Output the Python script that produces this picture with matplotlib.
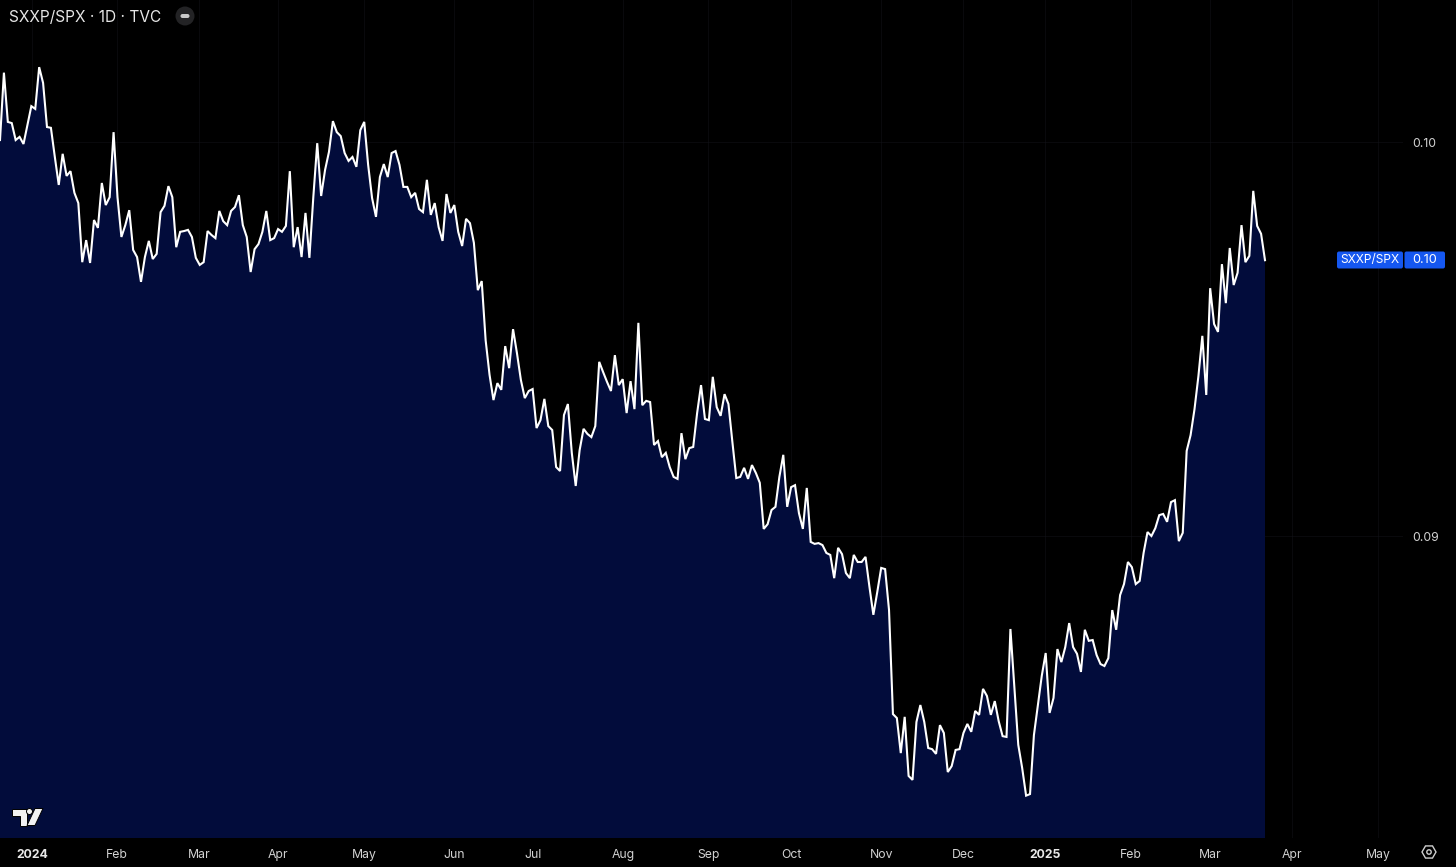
import numpy as np
import matplotlib
matplotlib.use("Agg")
import matplotlib.pyplot as plt
from matplotlib.patches import Circle, FancyBboxPatch, Polygon, RegularPolygon

plt.rcParams['font.family'] = ['Inter', 'DejaVu Sans']

# SXXP/SPX daily close
ratio_a = [0.10005, 0.10176, 0.10051, 0.10048, 0.10005, 0.10013, 0.09995, 0.10043, 0.10091, 0.10084,
           0.10190, 0.10150, 0.10038, 0.10036, 0.09962, 0.09891, 0.09970, 0.09914, 0.09926, 0.09871,
           0.09845, 0.09695, 0.09751, 0.09693, 0.09802, 0.09782, 0.09896, 0.09840, 0.09860, 0.10025,
           0.09860, 0.09759, 0.09789, 0.09827, 0.09726, 0.09708, 0.09645, 0.09708, 0.09749, 0.09703,
           0.09716, 0.09822, 0.09838, 0.09888, 0.09860, 0.09733, 0.09772, 0.09774, 0.09777, 0.09759,
           0.09706, 0.09688, 0.09695, 0.09774, 0.09764, 0.09756, 0.09825, 0.09799, 0.09789, 0.09825,
           0.09835, 0.09865, 0.09789, 0.09759, 0.09670, 0.09728, 0.09741, 0.09772, 0.09825, 0.09751,
           0.09756, 0.09779, 0.09772, 0.09787, 0.09926, 0.09733, 0.09784, 0.09708, 0.09820, 0.09706,
           0.09860, 0.09997]
ratio_b = [0.09863, 0.09929, 0.09975, 0.10053, 0.10025, 0.10015, 0.09972, 0.09952, 0.09962, 0.09937,
           0.10030, 0.10051, 0.09942, 0.09858, 0.09810, 0.09911, 0.09944, 0.09911, 0.09972, 0.09977,
           0.09942, 0.09886, 0.09886, 0.09860, 0.09871, 0.09830, 0.09822, 0.09904, 0.09815, 0.09845,
           0.09784, 0.09749, 0.09868, 0.09820, 0.09840, 0.09772, 0.09736, 0.09805, 0.09794, 0.09744,
           0.09624, 0.09647, 0.09497, 0.09409, 0.09345, 0.09388, 0.09371, 0.09482, 0.09426, 0.09525,
           0.09464, 0.09396, 0.09350, 0.09368, 0.09373, 0.09274, 0.09294, 0.09348, 0.09279, 0.09269,
           0.09175, 0.09165, 0.09307, 0.09335, 0.09211, 0.09127, 0.09218, 0.09272, 0.09259, 0.09251,
           0.09279, 0.09442, 0.09416, 0.09391, 0.09368, 0.09459, 0.09383, 0.09398, 0.09312, 0.09393,
           0.09322, 0.09541]
ratio_c = [0.09332, 0.09343, 0.09340, 0.09231, 0.09241, 0.09200, 0.09211, 0.09175, 0.09150, 0.09145,
           0.09261, 0.09195, 0.09223, 0.09226, 0.09312, 0.09383, 0.09297, 0.09294, 0.09404, 0.09327,
           0.09305, 0.09360, 0.09335, 0.09239, 0.09147, 0.09150, 0.09173, 0.09145, 0.09180, 0.09160,
           0.09135, 0.09018, 0.09030, 0.09066, 0.09074, 0.09150, 0.09206, 0.09074, 0.09124, 0.09129,
           0.09058, 0.09018, 0.09122, 0.08985, 0.08980, 0.08982, 0.08977, 0.08957, 0.08952, 0.08893,
           0.08970, 0.08954, 0.08906, 0.08893, 0.08952, 0.08934, 0.08934, 0.08947, 0.08871, 0.08800,
           0.08858, 0.08919, 0.08916, 0.08812, 0.08548, 0.08538, 0.08449, 0.08541, 0.08391, 0.08381,
           0.08528, 0.08571, 0.08528, 0.08462, 0.08459, 0.08447, 0.08520, 0.08500, 0.08401, 0.08416,
           0.08457, 0.08459]
ratio_d = [0.08500, 0.08523, 0.08503, 0.08556, 0.08546, 0.08612, 0.08594, 0.08546, 0.08581, 0.08530,
           0.08492, 0.08490, 0.08764, 0.08619, 0.08470, 0.08411, 0.08341, 0.08345, 0.08495, 0.08569,
           0.08645, 0.08703, 0.08551, 0.08589, 0.08713, 0.08680, 0.08718, 0.08779, 0.08718, 0.08701,
           0.08655, 0.08762, 0.08734, 0.08736, 0.08698, 0.08675, 0.08670, 0.08690, 0.08812, 0.08762,
           0.08850, 0.08878, 0.08934, 0.08921, 0.08878, 0.08886, 0.08957, 0.09010, 0.09000, 0.09020,
           0.09053, 0.09056, 0.09036, 0.09086, 0.09091, 0.08987, 0.09008, 0.09216, 0.09256, 0.09322,
           0.09406, 0.09508, 0.09358, 0.09629, 0.09538, 0.09518, 0.09690, 0.09591, 0.09731, 0.09637,
           0.09668, 0.09789, 0.09695, 0.09711, 0.09876, 0.09787, 0.09767, 0.09700]
ratio = np.array(ratio_a + ratio_b + ratio_c + ratio_d)

month_labels = ['2024', 'Feb', 'Mar', 'Apr', 'May', 'Jun', 'Jul', 'Aug', 'Sep', 'Oct', 'Nov', 'Dec',
                '2025', 'Feb', 'Mar', 'Apr', 'May']
month_pos = [8.2, 29.9, 50.8, 71, 93, 115.9, 136.1, 159.1, 180.8, 202, 225, 245.9,
             266.9, 288.8, 309, 329.9, 351.9]
price_ticks = [0.09, 0.10]
price_labels = ['0.09', '0.10']

W, H = 1456, 867
bg = '#000000'
fill = '#020c3b'
grid = '#14161b'
txt = '#d2d2d2'
blue = '#1557f0'

fig = plt.figure(figsize=(W / 100, H / 100), dpi=100, facecolor=bg)

# price pane, right edge is where the price scale starts
pane_w = 1403
ax = fig.add_axes([0, (H - 838) / H, pane_w / W, 838 / H], facecolor=bg)
step = 1265 / (len(ratio) - 1)
x = np.arange(len(ratio))
ax.fill_between(x, ratio, 0, color=fill, lw=0, zorder=2)
ax.plot(x, ratio, color='white', lw=1.5, solid_joinstyle='miter', zorder=3)
ax.set_xlim(0, pane_w / step)
ax.set_ylim(0.10 - 696 / 39400, 0.10 + 142 / 39400)
for s in ax.spines.values():
    s.set_visible(False)

ax.set_xticks(month_pos)
ax.set_xticklabels(month_labels)
ax.set_yticks(price_ticks)
ax.set_yticklabels(price_labels)
ax.yaxis.tick_right()
ax.tick_params(axis='x', length=0, pad=8, labelsize=8.8, colors=txt)
ax.tick_params(axis='y', length=0, pad=6.5, labelsize=8.8, colors=txt)
for lab in ax.get_xticklabels():
    if lab.get_text() in ('2024', '2025'):
        lab.set_fontweight('bold')
        lab.set_color('#e8e8e8')
ax.grid(True, color=grid, lw=0.8)
for ln in ax.get_xgridlines() + ax.get_ygridlines():
    ln.set_zorder(2.5)
    ln.set_alpha(0.45)

# overlay in picture pixels for the title, price tag and logo
ov = fig.add_axes([0, 0, 1, 1], facecolor='none')
ov.set_xlim(0, W)
ov.set_ylim(H, 0)
ov.axis('off')

ov.text(9, 17, 'SXXP/SPX · 1D · TVC', color='#e6e6e6', fontsize=11.1, va='center', ha='left')
ov.add_patch(Circle((185, 16), 9.5, color='#232325', lw=0))
ov.add_patch(FancyBboxPatch((180.5, 14), 9, 4, boxstyle='round,pad=0,rounding_size=2', fc='#c8c8c8', ec='none'))

# last value tag
ov.add_patch(FancyBboxPatch((1337, 251.5), 66, 17, boxstyle='round,pad=0,rounding_size=2', fc=blue, ec='none'))
ov.add_patch(FancyBboxPatch((1404.5, 251.5), 40.5, 17, boxstyle='round,pad=0,rounding_size=2', fc=blue, ec='none'))
ov.text(1370, 259.5, 'SXXP/SPX', color='white', fontsize=8.6, ha='center', va='center')
ov.text(1425, 260, '0.10', color='white', fontsize=9.2, ha='center', va='center')

# TradingView mark
logo_kw = dict(fc='#f2f2f2', ec='black', lw=0.7, zorder=5)
ov.add_patch(Polygon([(12, 808.5), (26.5, 808.5), (26.5, 825.5), (19.5, 825.5), (19.5, 815.5), (12, 815.5)], **logo_kw))
ov.add_patch(Circle((29.5, 811.5), 3.0, **logo_kw))
ov.add_patch(Polygon([(35, 808.5), (43, 808.5), (35, 825.5), (27, 825.5)], **logo_kw))

# settings gear
ov.add_patch(RegularPolygon((1429, 852), 6, radius=7, orientation=np.pi / 2, fc='none', ec='#cfcfcf', lw=1.0))
ov.add_patch(Circle((1429, 852), 2.2, fc='none', ec='#cfcfcf', lw=1.0))

fig.savefig('out.png', dpi=100, facecolor=bg)
